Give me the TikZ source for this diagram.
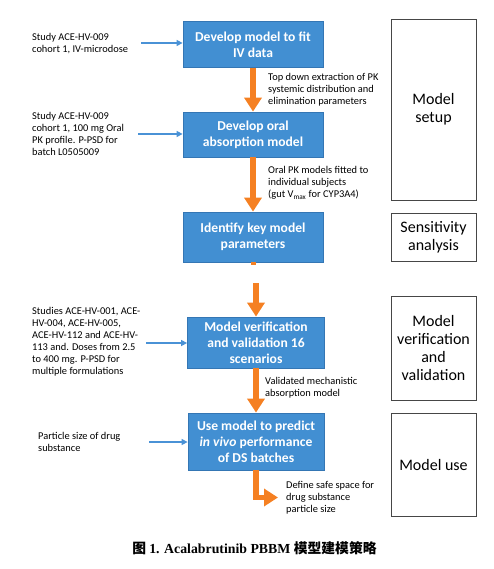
\documentclass[tikz,border=0pt]{standalone}
\usepackage{fontspec}
\setmainfont{Carlito}
\newfontfamily\capfont{Liberation Serif}
\newfontfamily\cjk{Noto Sans CJK SC}
\usetikzlibrary{arrows.meta}
\definecolor{boxblue}{RGB}{66,143,210}
\definecolor{boxedge}{RGB}{52,118,180}
\definecolor{inblue}{RGB}{74,146,214}
\definecolor{orng}{RGB}{245,128,34}
\definecolor{graybd}{RGB}{70,70,70}
\tikzset{
  stepbox/.style={draw=boxedge, line width=0.8pt, fill=boxblue, text=white, align=center,
    font=\fontsize{13.6}{16}\selectfont\bfseries, inner sep=0pt, minimum width=140pt},
  sidebox/.style={draw=graybd, line width=0.9pt, fill=white, align=center, inner sep=0pt,
    minimum width=85pt, font=\fontsize{16}{18.2}\selectfont},
  sidetext/.style={anchor=west, align=left, inner sep=0pt, font=\fontsize{10.4}{12}\selectfont},
  inarrow/.style={draw=inblue, line width=1.4pt, -{Triangle[width=6pt,length=6pt]}},
  flow/.style={draw=orng, line width=5.5pt, -{Triangle[width=17pt,length=14pt]}}
}
\begin{document}
\begin{tikzpicture}[x=1pt,y=-1pt]
\useasboundingbox (0,0) rectangle (494,569);
% main boxes
\node[stepbox, minimum height=46pt] (b1) at (253,44.5) {Develop model to fit\\IV data};
\node[stepbox, minimum height=45pt] (b2) at (253,134.5) {Develop oral\\absorption model};
\node[stepbox, minimum height=50pt] (b3) at (253,237) {Identify key model\\parameters};
\node[stepbox, minimum height=51pt, minimum width=137pt] (b4) at (256,342.5) {Model verification\\and validation 16\\scenarios};
\node[stepbox, minimum height=57pt, minimum width=136pt] (b5) at (256,441.5) {Use model to predict\\\textit{in vivo} performance\\of DS batches};
% side boxes
\node[sidebox, minimum height=181pt] (r1) at (433.5,109.5) {Model\\setup};
\node[sidebox, minimum height=48pt] (r2) at (433.5,237) {Sensitivity\\analysis};
\node[sidebox, minimum height=104pt] (r3) at (433.5,348) {Model\\verification\\and\\validation};
\node[sidebox, minimum height=103pt] (r4) at (433.5,464.5) {Model use};
% inputs
\node[sidetext] (i1) at (32,44) {Study ACE-HV-009\\cohort 1, IV-microdose};
\node[sidetext] (i2) at (32,134) {Study ACE-HV-009\\cohort 1, 100 mg Oral\\PK profile. P-PSD for\\batch L0505009};
\node[sidetext] (i3) at (32,342) {Studies ACE-HV-001, ACE-\\HV-004, ACE-HV-005,\\ACE-HV-112 and ACE-HV-\\113 and. Doses from 2.5\\to 400 mg. P-PSD for\\multiple formulations};
\node[sidetext] (i4) at (38,442) {Particle size of drug\\substance};
\coordinate (s1) at (141,43);
\coordinate (s2) at (138,134);
\coordinate (s3) at (146,343);
\coordinate (s4) at (149,442);
\draw[inarrow] (s1) -- (s1 -| b1.west);
\draw[inarrow] (s2) -- (s2 -| b2.west);
\draw[inarrow] (s3) -- (s3 -| b4.west);
\draw[inarrow] (s4) -- (s4 -| b5.west);
% flow labels
\node[sidetext] (l1) at (268,90) {Top down extraction of PK\\systemic distribution and\\elimination parameters};
\node[sidetext] (l2) at (268,183) {Oral PK models fitted to\\individual subjects\\(gut V\textsubscript{max} for CYP3A4)};
\node[sidetext] (l3) at (265,388) {Validated mechanistic\\absorption model};
\node[sidetext] (l4) at (286,498) {Define safe space for\\drug substance\\particle size};
% flow arrows
\draw[flow] (b1.south) -- (b2.north);
\draw[flow] (b2.south) -- (b3.north);
\coordinate (g1) at (256,283);
\coordinate (g0) at (253,265);
\draw[draw=orng, line width=5pt] (b3.south) -- (g0);
\draw[flow] (g1) -- (g1 |- b4.north);
\draw[flow] (b4.south) -- (b5.north);
\coordinate (e1) at (278,497.5);
\draw[flow, line join=miter] (b5.south) |- (e1);
% caption
\node[inner sep=0pt] (cap) at (254.5,548) {\fontsize{13.8}{16}\selectfont\bfseries{\cjk 图} \capfont 1. Acalabrutinib PBBM {\cjk 模型建模策略}};
\end{tikzpicture}
\end{document}
